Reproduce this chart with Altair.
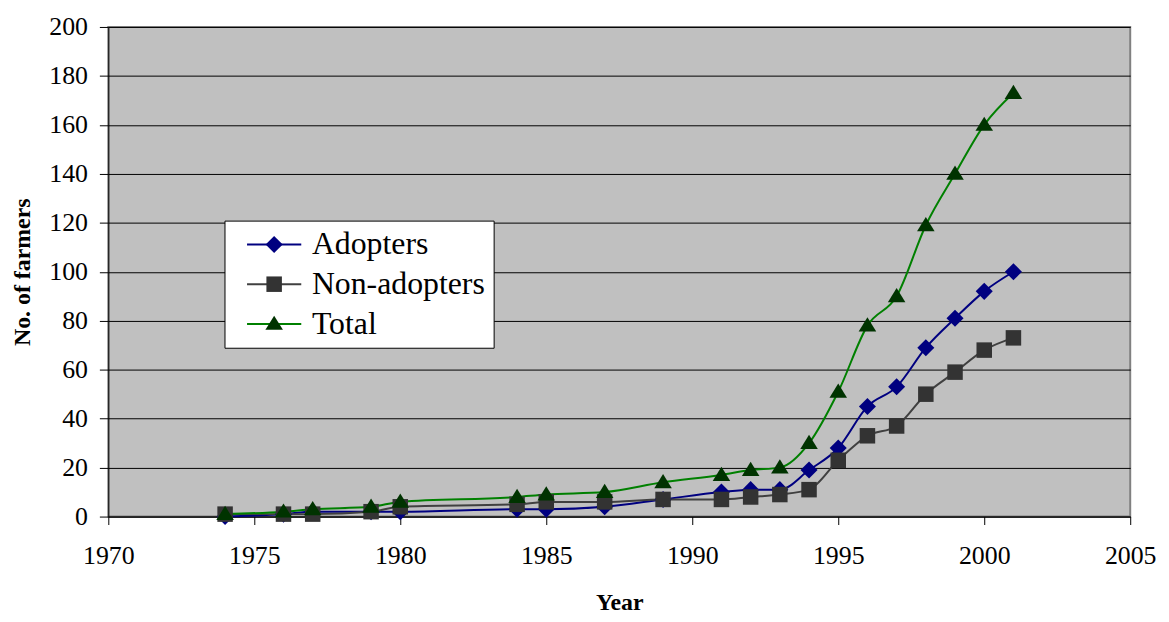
import altair as alt
import pandas as pd

years = [1974, 1976, 1977, 1979, 1980, 1984, 1985, 1987, 1989, 1991, 1992, 1993,
         1994, 1995, 1996, 1997, 1998, 1999, 2000, 2001]
adopters = [0, 1, 2, 2, 2, 3, 3, 4, 7, 10, 11, 11, 19, 28, 45, 53, 69, 81, 92, 100]
non_adopters = [1, 1, 1, 2, 4, 5, 6, 6, 7, 7, 8, 9, 11, 23, 33, 37, 50, 59, 68, 73]
total = [1, 2, 3, 4, 6, 8, 9, 10, 14, 17, 19, 20, 30, 51, 78, 90, 119, 140, 160, 173]

series = ["Adopters", "Non-adopters", "Total"]
marker_keys = ["Adopters ", "Non-adopters ", "Total "]
line_colors = ["#000080", "#404040", "#008000"]
marker_colors = ["#000080", "#333333", "#003300"]
shapes = [
    "M0,-0.66L0.66,0L0,0.66L-0.66,0Z",
    "M-0.6,-0.6H0.6V0.6H-0.6Z",
    "M0,-0.64L0.68,0.46L-0.68,0.46Z",
]
legend_line = "M-2.1,0H2.1"

rows = []
for name, key, vals in zip(series, marker_keys, [adopters, non_adopters, total]):
    for y, v in zip(years, vals):
        rows.append({"Year": y, "Farmers": v, "Series": name, "Key": key})
df = pd.DataFrame(rows)

FONT = "Liberation Serif, Times New Roman, Times, serif"
SYM = 676
LX, LY = 117, 195

x = alt.X("Year:Q",
          scale=alt.Scale(domain=[1970, 2005], nice=False),
          axis=alt.Axis(values=list(range(1970, 2006, 5)), format="d", title="Year",
                        grid=False, tickSize=8, labelPadding=18, titlePadding=23,
                        tickColor="black", domainColor="black", labelFlush=False))
y = alt.Y("Farmers:Q",
          scale=alt.Scale(domain=[0, 200], nice=False),
          axis=alt.Axis(values=list(range(0, 201, 20)), title="No. of farmers",
                        grid=True, gridColor="black", gridWidth=1, tickSize=9,
                        labelPadding=12, titlePadding=14, tickColor="black",
                        domainColor="black"))

common_legend = dict(title=None, orient="none", legendX=LX, legendY=LY, padding=8,
                     labelFontSize=32, labelFont=FONT, symbolSize=SYM, rowPadding=8,
                     symbolOffset=26, labelOffset=22, labelLimit=400)

lines = alt.Chart(df).mark_line(interpolate="monotone", strokeWidth=2).encode(
    x=x, y=y,
    color=alt.Color("Series:N", scale=alt.Scale(domain=series, range=line_colors),
                    legend=alt.Legend(fillColor="white", strokeColor="black",
                                      labelColor="black", symbolType=legend_line,
                                      symbolStrokeWidth=2, zindex=0, **common_legend)),
)

points = alt.Chart(df).mark_point(filled=True, size=SYM, opacity=1).encode(
    x=x, y=y,
    fill=alt.Fill("Key:N", scale=alt.Scale(domain=marker_keys, range=marker_colors),
                  legend=alt.Legend(fillColor="transparent", strokeColor="transparent",
                                    labelColor="transparent", zindex=1,
                                    **common_legend)),
    shape=alt.Shape("Key:N", scale=alt.Scale(domain=marker_keys, range=shapes)),
)

chart = alt.layer(lines, points).resolve_legend(color="independent").properties(
    width=1029, height=493,
    autosize=alt.AutoSizeParams(type="none"),
    padding={"left": 101, "top": 17, "right": 31, "bottom": 96},
    background="white",
).configure_view(
    fill="#C0C0C0", stroke="#808080", strokeWidth=2,
).configure_axis(
    labelFont=FONT, labelFontSize=26, labelColor="black",
    titleFont=FONT, titleFontSize=24, titleFontWeight="bold", titleColor="black",
)

chart.save("out.html", embed_options={"renderer": "svg", "actions": False})
